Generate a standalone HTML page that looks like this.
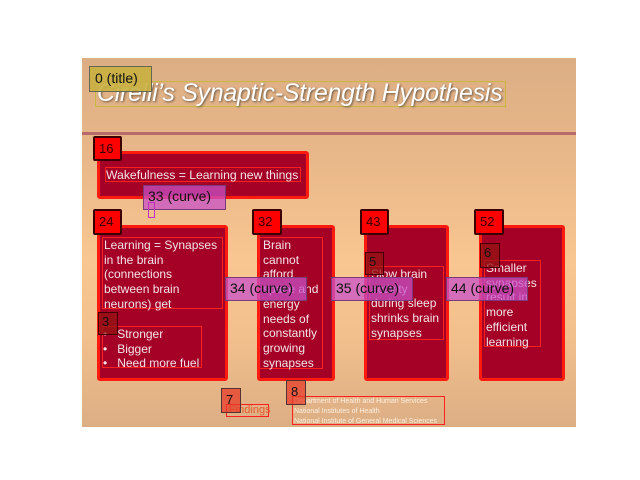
<!DOCTYPE html>
<html><head><meta charset="utf-8"><style>
body{margin:0;width:640px;height:480px;background:#fff;position:relative;overflow:hidden;font-family:"Liberation Sans",sans-serif}
div{position:absolute;box-sizing:border-box}
.slide{left:82px;top:58px;width:494px;height:369px;background:linear-gradient(#dcae84 0%,#eab98a 30%,#f8c690 55%,#f2c08c 75%,#dcae84 100%)}
.box{background:#a50026;border:3px solid #ff1a10;border-radius:3px}
.t{color:#f4e4e8;font-size:12px;line-height:14.7px;white-space:nowrap}
.lab{background:#ff0000;border:2px solid #3a0000;border-radius:2px;font-size:13px;color:#300;padding:3px 0 0 4px}
.sm{background:rgba(150,20,20,0.75);border:1px solid #400;font-size:13px;color:#111;padding:1px 0 0 3px}
.cv{background:rgba(200,80,200,0.75);border:1px solid #7a3a7a;font-size:14px;color:#111;padding:1px 0 0 4px;line-height:18px}
.ob{border:1px solid #ff2020}
</style></head><body>
<div class="slide"></div>
<div style="left:82px;top:132px;width:494px;height:3px;background:#b86a6a"></div>
<div style="left:95px;top:81px;width:411px;height:26px;border:1px solid #c8b840;color:#fff;font-style:italic;font-size:24.8px;line-height:24px;text-shadow:1px 1px 2px #654;white-space:nowrap;padding-left:1px;letter-spacing:-0.2px">Cirelli’s Synaptic-Strength Hypothesis</div>
<div style="left:89px;top:66px;width:63px;height:26px;background:rgba(200,176,64,0.9);border:1px solid #665;font-size:14px;padding:3px 0 0 5px;color:#111">0 (title)</div>

<div class="box" style="left:97px;top:151px;width:212px;height:48px"></div>
<div class="t ob" style="left:105px;top:167px;width:196px;height:15px;font-size:12.2px;line-height:14px">Wakefulness = Learning new things</div>

<div class="box" style="left:97px;top:225px;width:131px;height:156px"></div>
<div class="t ob" style="left:102px;top:237px;width:121px;height:72px;padding-left:1px">Learning = Synapses<br>in the brain<br>(connections<br>between brain<br>neurons) get</div>
<div class="t ob" style="left:102px;top:326px;width:100px;height:42px;line-height:14.5px">•&nbsp;&nbsp;&nbsp;Stronger<br>•&nbsp;&nbsp;&nbsp;Bigger<br>•&nbsp;&nbsp;&nbsp;Need more fuel</div>

<div class="box" style="left:257px;top:225px;width:78px;height:156px"></div>
<div class="t ob" style="left:259px;top:237px;width:64px;height:132px;padding-left:3px">Brain<br>cannot<br>afford<br>space and<br>energy<br>needs of<br>constantly<br>growing<br>synapses</div>

<div class="box" style="left:364px;top:225px;width:85px;height:156px"></div>
<div class="t ob" style="left:369px;top:266px;width:75px;height:74px;padding-left:1px">Slow brain<br>activity<br>during sleep<br>shrinks brain<br>synapses</div>

<div class="box" style="left:479px;top:225px;width:86px;height:156px"></div>
<div class="t ob" style="left:484px;top:260px;width:57px;height:87px;padding-left:1px">Smaller<br>synapses<br>result in<br>more<br>efficient<br>learning</div>

<div class="lab" style="left:93px;top:136px;width:29px;height:25px">16</div>
<div class="lab" style="left:93px;top:209px;width:29px;height:26px">24</div>
<div class="lab" style="left:252px;top:209px;width:30px;height:26px">32</div>
<div class="lab" style="left:360px;top:209px;width:29px;height:26px">43</div>
<div class="lab" style="left:474px;top:209px;width:30px;height:26px">52</div>

<div class="sm" style="left:98px;top:312px;width:20px;height:23px">3</div>
<div class="sm" style="left:365px;top:252px;width:19px;height:23px">5</div>
<div class="sm" style="left:480px;top:243px;width:20px;height:25px">6</div>

<div class="cv" style="left:143px;top:185px;width:83px;height:25px">33 (curve)</div>
<div style="left:148px;top:202px;width:7px;height:16px;border:1px solid #c030c0"></div>
<div class="cv" style="left:225px;top:277px;width:82px;height:24px">34 (curve)</div>
<div class="cv" style="left:331px;top:277px;width:82px;height:24px">35 (curve)</div>
<div class="cv" style="left:446px;top:277px;width:82px;height:24px">44 (curve)</div>

<div style="left:226px;top:404px;width:43px;height:13px;border:1px solid #ff2020;color:#e85a30;font-size:11px;line-height:11px;padding-left:2px">Findings</div>
<div style="left:221px;top:388px;width:20px;height:25px;background:rgba(230,60,40,0.75);border:1px solid #533;font-size:13px;padding:3px 0 0 4px;color:#111">7</div>
<div style="left:292px;top:396px;width:153px;height:29px;border:1px solid #ff2020;color:#fbeee0;font-size:7px;line-height:10px;padding-left:1px;white-space:nowrap;overflow:hidden">Department of Health and Human Services<br>National Institutes of Health<br>National Institute of General Medical Sciences</div>
<div style="left:286px;top:380px;width:20px;height:25px;background:rgba(230,60,40,0.75);border:1px solid #533;font-size:13px;padding:3px 0 0 4px;color:#111">8</div>
</body></html>
